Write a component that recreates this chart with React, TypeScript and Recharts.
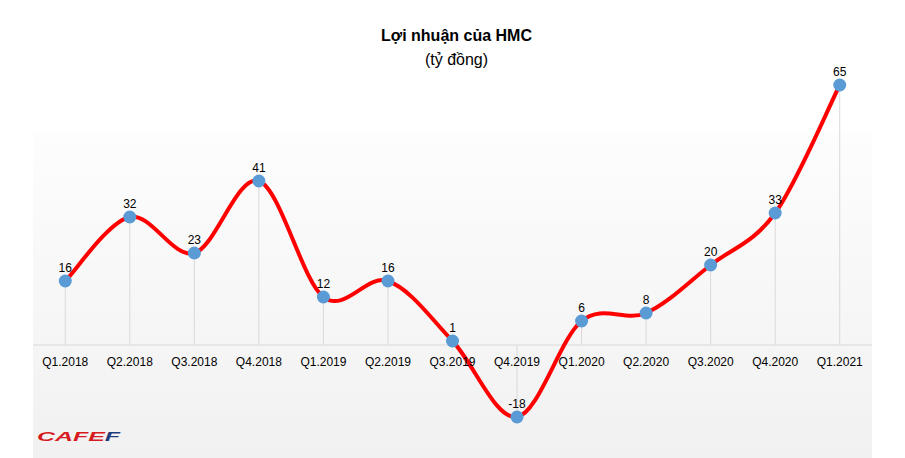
import React from 'react'
import {
  LineChart,
  Line,
  XAxis,
  YAxis,
  ReferenceLine,
  LabelList
} from "recharts"

const quarters = [
  "Q1.2018", "Q2.2018", "Q3.2018", "Q4.2018",
  "Q1.2019", "Q2.2019", "Q3.2019", "Q4.2019",
  "Q1.2020", "Q2.2020", "Q3.2020", "Q4.2020",
  "Q1.2021",
]
const profit = [16, 32, 23, 41, 12, 16, 1, -18, 6, 8, 20, 33, 65]

const data = quarters.map((q, i) => ({ q, profit: profit[i] }))

const W = 905
const H = 458
const TOP = 65
const AXIS_H = 13
const Y_MIN = -25
const Y_MAX = 70
const PLOT_H = H - TOP - AXIS_H
const ZERO_Y = TOP + (Y_MAX / (Y_MAX - Y_MIN)) * PLOT_H
const FONT = '"Liberation Sans", Arial, sans-serif'

// excel-ish smoothing: catmull-rom through every point
const smoothCurve = (context: any) => {
  let pts: number[][] = []
  return {
    areaStart() {},
    areaEnd() {},
    lineStart() { pts = [] },
    lineEnd() {
      if (!pts.length) return
      context.moveTo(pts[0][0], pts[0][1])
      for (let i = 0; i < pts.length - 1; i++) {
        const p0 = pts[Math.max(i - 1, 0)]
        const p1 = pts[i]
        const p2 = pts[i + 1]
        const p3 = pts[Math.min(i + 2, pts.length - 1)]
        context.bezierCurveTo(
          p1[0] + (p2[0] - p0[0]) / 6, p1[1] + (p2[1] - p0[1]) / 6,
          p2[0] - (p3[0] - p1[0]) / 6, p2[1] - (p3[1] - p1[1]) / 6,
          p2[0], p2[1]
        )
      }
    },
    point(x: number, y: number) { pts.push([+x, +y]) },
  }
}

const QuarterTick = ({ x, payload }: any) => (
  <text x={x} y={ZERO_Y + 21} textAnchor="middle" fontSize={12} fill="#000" fontFamily={FONT}>
    {payload.value}
  </text>
)

const App = () => {
  return (
    <div style={{ position: "absolute", left: 0, top: 0, width: W, height: H, background: "#fff" }}>
      <div
        style={{
          position: "absolute", left: 33, top: 133, width: 839, height: H - 133,
          background: "linear-gradient(#fdfdfd, #f1f1f1)",
        }}
      />
      <div style={{ position: "absolute", left: 4, top: 27, width: W, textAlign: "center", fontFamily: FONT, fontWeight: "bold", fontSize: 16 }}>
        Lợi nhuận của HMC
      </div>
      <div style={{ position: "absolute", left: 4, top: 51, width: W, textAlign: "center", fontFamily: FONT, fontSize: 16 }}>
        (tỷ đồng)
      </div>
      <svg style={{ position: "absolute", left: 37, top: 430 }} width={90} height={14}>
        <text x={0} y={11} fontSize={13} fontWeight="bold" fontStyle="italic" fontFamily={FONT} textLength={83} lengthAdjust="spacingAndGlyphs">
          <tspan fill="#d71920">CAFE</tspan>
          <tspan fill="#1f3d7a">F</tspan>
        </text>
      </svg>
      <div style={{ position: "absolute", left: 0, top: 0 }}>
        <LineChart width={W} height={H} data={data} margin={{ top: TOP, right: 33, bottom: 0, left: 33 }}>
          <XAxis dataKey="q" scale="band" height={AXIS_H} axisLine={false} tickLine={false} tick={<QuarterTick />} interval={0} />
          <YAxis hide domain={[Y_MIN, Y_MAX]} />
          <ReferenceLine y={0} stroke="#d9d9d9" strokeWidth={1} />
          {data.map((d) => (
            <ReferenceLine
              key={d.q}
              segment={[{ x: d.q, y: 0 }, { x: d.q, y: d.profit }]}
              stroke="#d9d9d9"
              strokeWidth={1}
            />
          ))}
          <Line
            dataKey="profit"
            type={smoothCurve as any}
            stroke="#ff0000"
            strokeWidth={4}
            dot={{ r: 6.5, fill: "#5b9bd5", stroke: "none" }}
            activeDot={false}
            isAnimationActive={false}
          >
            <LabelList dataKey="profit" position="top" offset={9} fontSize={12} fill="#000" fontFamily={FONT} />
          </Line>
        </LineChart>
      </div>
    </div>
  )
}

export default App
